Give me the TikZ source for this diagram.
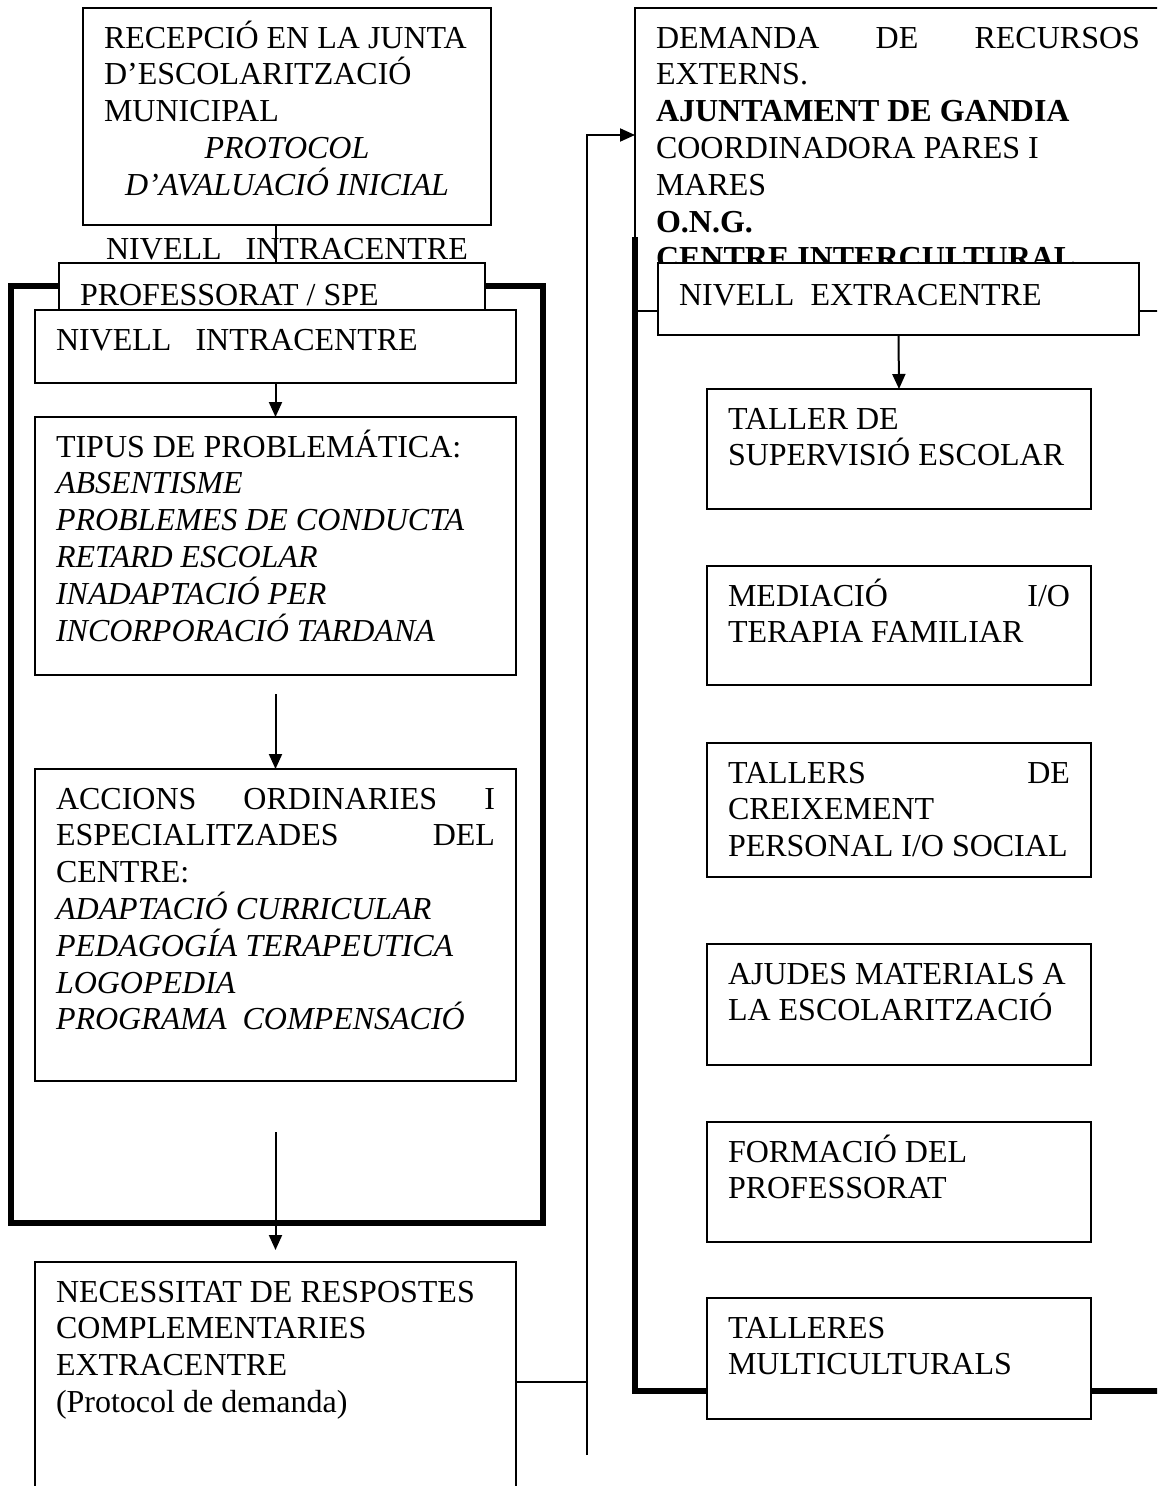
\documentclass[tikz,border=0pt]{standalone}
\usepackage{fontspec}
\setmainfont{Liberation Serif}
\usetikzlibrary{arrows.meta,positioning}
\newcommand{\caixatext}[4][3.2pt]{\parbox[c][#3][t]{#2}{\vspace*{#1}\hbox to \linewidth{}#4}}
\newcommand{\lin}[1]{\hbox{#1}}
\newcommand{\just}[1]{\hbox to \linewidth{#1}}
\newcommand{\centrat}[1]{\hbox to \linewidth{\hfil#1\hfil}}

\begin{document}
\begin{tikzpicture}[x=1pt,y=-1pt,
    caixa/.style={draw, line width=2pt, fill=white, anchor=north west, outer sep=0pt,
      inner xsep=21pt, inner ysep=0pt, font=\fontsize{32}{36.8}\selectfont},
    etiqueta/.style={inner sep=0pt, anchor=base, font=\fontsize{32}{36.8}\selectfont},
    fletxa/.style={line width=2pt, -{Triangle[length=15pt,width=13pt]}},
    linia/.style={line width=2pt},
    marc/.style={line width=6pt}]
                \clip (0,0) rectangle (1157,1486);
                \draw [marc] (11,286) rectangle (543,1223);
                \node [caixa] (recepcio) at (83,8) {\caixatext{366pt}{217pt}{\lin{RECEPCIÓ EN LA JUNTA}\lin{D’ESCOLARITZACIÓ}\lin{MUNICIPAL}\centrat{\itshape PROTOCOL}\centrat{\itshape D’AVALUACIÓ INICIAL}}};
                \node [etiqueta] (nivellintra) at (287,259) {NIVELL\ \ \ INTRACENTRE};
                \node [caixa] (professorat) at (59,263) {\caixatext[5.2pt]{384pt}{70pt}{\lin{PROFESSORAT / SPE}}};
                \node [caixa] (intra) at (35,310) {\caixatext{439pt}{73pt}{\lin{NIVELL\ \ \ INTRACENTRE}}};
                \node [caixa] (tipus) at (35,417) {\caixatext{439pt}{258pt}{\lin{TIPUS DE PROBLEMÁTICA:}\lin{\itshape ABSENTISME}\lin{\itshape PROBLEMES DE CONDUCTA}\lin{\itshape RETARD ESCOLAR}\lin{\itshape INADAPTACIÓ PER}\lin{\itshape INCORPORACIÓ TARDANA}}};
                \node [caixa] (accions) at (35,769) {\caixatext{439pt}{312pt}{\just{ACCIONS\hfill ORDINARIES\hfill I}\just{ESPECIALITZADES\hfill DEL}\lin{CENTRE:}\lin{\itshape ADAPTACIÓ CURRICULAR}\lin{\itshape PEDAGOGÍA TERAPEUTICA}\lin{\itshape LOGOPEDIA}\lin{\itshape PROGRAMA\ \ COMPENSACIÓ}}};
                \node [caixa] (necessitat) at (35,1262) {\caixatext{439pt}{260pt}{\lin{NECESSITAT DE RESPOSTES}\lin{COMPLEMENTARIES}\lin{EXTRACENTRE}\lin{(Protocol de demanda)}}};
                \coordinate (peu) at ([xshift=-11pt]recepcio.south);
                \draw [linia] (peu) -- (peu |- professorat.north);
                \coordinate (sortida1) at ([yshift=-19pt]tipus.south);
                \coordinate (sortida2) at ([yshift=-51pt]accions.south);
                \draw [fletxa] (intra.south) -- (tipus.north);
                \draw [fletxa] (sortida1) -- (accions.north);
                \draw [fletxa, shorten >=12pt] (sortida2) -- (necessitat.north);
                \node [caixa] (demanda) at (635,8) {\caixatext{484pt}{303pt}{\just{DEMANDA\hfill DE\hfill RECURSOS}\lin{EXTERNS.}\lin{\bfseries AJUNTAMENT DE GANDIA}\lin{COORDINADORA PARES I}\lin{MARES}\lin{\bfseries O.N.G.}\lin{\bfseries CENTRE INTERCULTURAL}}};
                \draw [marc] (635,237) -- (635,1391) -- (1165,1391);
                \node [caixa] (extra) at (658,263) {\caixatext[5.2pt]{439pt}{72pt}{\lin{NIVELL\ \ EXTRACENTRE}}};
                \node [caixa] (taller) at (707,389) {\caixatext{342pt}{120pt}{\lin{TALLER DE}\lin{SUPERVISIÓ ESCOLAR}}};
                \node [caixa] (mediacio) at (707,566) {\caixatext{342pt}{119pt}{\just{MEDIACIÓ\hfill I/O}\lin{TERAPIA FAMILIAR}}};
                \node [caixa] (creixement) at (707,743) {\caixatext{342pt}{134pt}{\just{TALLERS\hfill DE}\lin{CREIXEMENT}\lin{PERSONAL I/O SOCIAL}}};
                \node [caixa] (ajudes) at (707,944) {\caixatext{342pt}{121pt}{\lin{AJUDES MATERIALS A}\lin{LA ESCOLARITZACIÓ}}};
                \node [caixa] (formacio) at (707,1122) {\caixatext{342pt}{120pt}{\lin{FORMACIÓ DEL}\lin{PROFESSORAT}}};
                \node [caixa] (multiculturals) at (707,1298) {\caixatext{342pt}{121pt}{\lin{TALLERES}\lin{MULTICULTURALS}}};
                \draw [fletxa] (extra.south) -- (taller.north);
                \coordinate (cua) at (587,1455);
                \coordinate (unio) at ([yshift=10pt]necessitat.east);
                \draw [linia] (unio) -- (unio -| cua);
                \draw [fletxa] (cua) |- ([yshift=-127pt]demanda.north west);
            \end{tikzpicture}
\end{document}
